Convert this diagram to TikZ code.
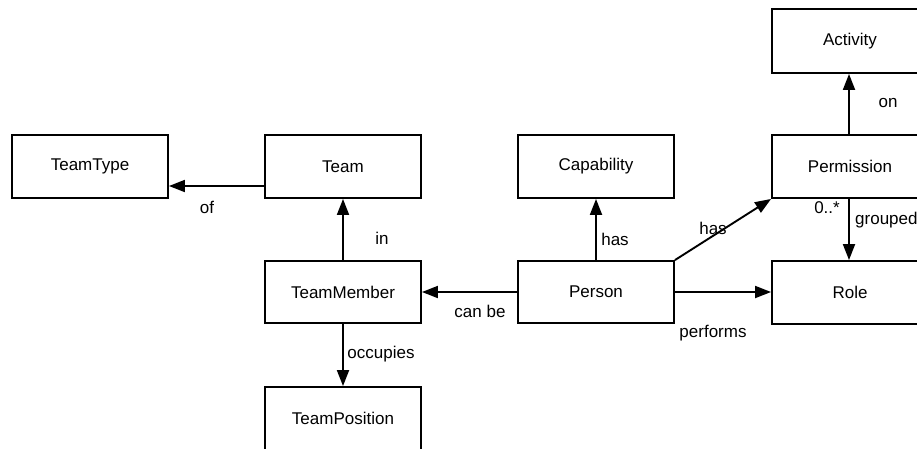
\documentclass[tikz,border=0pt]{standalone}
\usepackage{fontspec}
\setmainfont{Liberation Sans}
\usetikzlibrary{arrows.meta}
\begin{document}
\begin{tikzpicture}[x=1pt,y=-1pt,
  entity/.style={draw, line width=1.9pt, fill=white, minimum width=156pt,
    minimum height=63pt, inner sep=0pt, font=\fontsize{17}{20}\selectfont},
  link/.style={line width=1.9pt, -{Triangle[length=16pt,width=12pt]}},
  lbl/.style={inner sep=0pt, font=\fontsize{17}{20}\selectfont}]
  \clip (0,0) rectangle (917,448);
  % entities
  \node[entity] (teamtype) at (90,166.5) {TeamType};
  \node[entity] (team) at (343,166.5) {Team};
  \node[entity] (capability) at (596,166.5) {Capability};
  \node[entity] (permission) at (850,166.5) {Permission};
  \node[entity, minimum height=64pt] (activity) at (850,41) {Activity};
  \node[entity, minimum height=62pt] (teammember) at (343,292) {TeamMember};
  \node[entity, minimum height=62pt] (person) at (596,292) {Person};
  \node[entity] (role) at (850,292.5) {Role};
  \node[entity] (teamposition) at (343,418.5) {TeamPosition};
  % associations
  \draw[link] ([yshift=-19.5pt]team.west) -- ([yshift=-19.5pt]teamtype.east);
  \draw[link] (teammember.north) -- (team.south);
  \draw[link] (person.west) -- (teammember.east);
  \draw[link] (teammember.south) -- (teamposition.north);
  \draw[link] (person.north) -- (capability.south);
  \draw[link] (person.north east) -- (permission.south west);
  \draw[link] (person.east) -- (role.west |- person.east);
  \draw[link] ([xshift=-1pt]permission.north) -- ([xshift=-1pt]activity.south);
  \draw[link] ([xshift=-1pt]permission.south) -- ([xshift=-1pt]role.north);
  % association labels
  \node[lbl] (lof) at (207,207.5) {of};
  \node[lbl] (lin) at (382,238) {in};
  \node[lbl] (lcanbe) at (480,311) {can be};
  \node[lbl] (loccupies) at (381,354) {occupies};
  \node[lbl] (lhascap) at (615,239) {has};
  \node[lbl] (lhasperm) at (713,228) {has};
  \node[lbl] (lperforms) at (713,333) {performs};
  \node[lbl] (lon) at (888,103) {on};
  \node[lbl] (lmult) at (827,208) {0..*};
  \node[lbl, anchor=west] (lgrouped) at (855,220) {grouped};
\end{tikzpicture}
\end{document}
